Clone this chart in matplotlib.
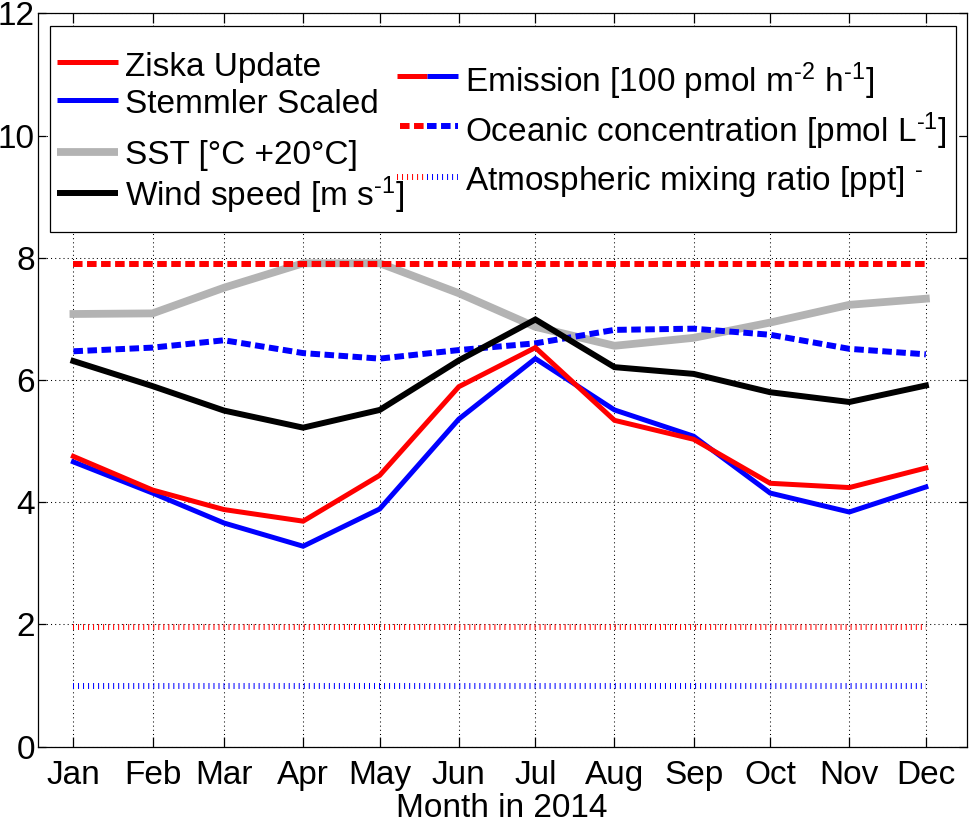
import matplotlib
matplotlib.use('Agg')
import matplotlib.pyplot as plt
from matplotlib.lines import Line2D
from matplotlib.patches import Rectangle

plt.rcParams['font.family'] = ['Liberation Sans', 'DejaVu Sans']
plt.rcParams['mathtext.fontset'] = 'custom'
plt.rcParams['mathtext.rm'] = 'Liberation Sans'
plt.rcParams['mathtext.it'] = 'Liberation Sans:italic'
plt.rcParams['mathtext.bf'] = 'Liberation Sans:bold'
plt.rcParams['mathtext.default'] = 'regular'

# ---- data ----
months = ['Jan', 'Feb', 'Mar', 'Apr', 'May', 'Jun',
          'Jul', 'Aug', 'Sep', 'Oct', 'Nov', 'Dec']
day_of_year = [15, 46, 74, 105, 135, 166, 196, 227, 258, 288, 319, 349]

emission_ziska = [4.75, 4.20, 3.88, 3.69, 4.44, 5.89, 6.53, 5.34, 5.03, 4.31, 4.24, 4.56]
emission_stemmler = [4.66, 4.15, 3.66, 3.28, 3.89, 5.36, 6.35, 5.51, 5.08, 4.15, 3.84, 4.25]
sst_plus20 = [7.08, 7.09, 7.51, 7.91, 7.91, 7.42, 6.87, 6.56, 6.69, 6.94, 7.23, 7.33]
wind_speed = [6.31, 5.90, 5.50, 5.22, 5.51, 6.32, 6.99, 6.21, 6.10, 5.80, 5.64, 5.91]
ocean_ziska = [7.90] * 12
ocean_stemmler = [6.47, 6.53, 6.65, 6.44, 6.35, 6.49, 6.60, 6.82, 6.84, 6.74, 6.51, 6.42]
atmos_ziska = [1.96] * 12
atmos_stemmler = [1.00] * 12

yticks = [0, 2, 4, 6, 8, 10, 12]

# ---- figure ----
W, H = 973, 822
fig = plt.figure(figsize=(W / 100, H / 100), dpi=100)
ax = fig.add_axes([37.7 / W, (H - 746.7) / H, 929 / W, 733.4 / H])

RED = '#ff0000'
BLUE = '#0000ff'
GRAY = '#b3b3b3'
BLACK = '#000000'

lw_em = 3.6
lw_wind = 4.3
lw_sst = 5.6
lw_dash = 4.3
dash_style = (0, (1.6, 0.75))
dot_style = (0, (0.17, 0.67))

ax.plot(day_of_year, sst_plus20, color=GRAY, lw=lw_sst, zorder=2, solid_joinstyle='miter')
ax.plot(day_of_year, ocean_stemmler, color=BLUE, lw=lw_dash, ls=dash_style,
        dash_capstyle='butt', zorder=3)
ax.plot(day_of_year, wind_speed, color=BLACK, lw=lw_wind, zorder=4, solid_joinstyle='miter')
ax.plot(day_of_year, emission_stemmler, color=BLUE, lw=lw_em, zorder=5, solid_joinstyle='miter')
ax.plot(day_of_year, emission_ziska, color=RED, lw=lw_em, zorder=6, solid_joinstyle='miter')
ax.plot(day_of_year, ocean_ziska, color=RED, lw=lw_dash, ls=dash_style,
        dash_capstyle='butt', zorder=7)
ax.plot(day_of_year, atmos_ziska, color=RED, lw=lw_dash, ls=dot_style,
        dash_capstyle='butt', zorder=7)
ax.plot(day_of_year, atmos_stemmler, color=BLUE, lw=lw_dash, ls=dot_style,
        dash_capstyle='butt', zorder=7)

ax.set_xlim(1, 365)
ax.set_ylim(0, 12)
ax.set_xticks(day_of_year)
ax.set_xticklabels(months)
ax.set_yticks(yticks)
ax.set_yticklabels([str(v) for v in yticks])

ax.grid(True, color='black', lw=0.75, ls=(0, (1, 3)))
ax.set_axisbelow(True)
for s in ax.spines.values():
    s.set_linewidth(0.9)
    s.set_zorder(10)

ax.tick_params(axis='x', direction='in', length=7.2, width=0.9, top=True,
               labelsize=24, pad=9.5)
ax.tick_params(axis='y', direction='in', length=5.8, width=0.9, right=True,
               labelsize=24, pad=2)
ax.set_xlabel('Month in 2014', fontsize=24, labelpad=1.2)

# ---- legend box (drawn in figure pixel coordinates) ----
def fx(x):
    return x / W

def fy(y):
    return 1 - y / H

box = Rectangle((fx(50), fy(232.3)), fx(955.7) - fx(50), fy(26) - fy(232.3),
                transform=fig.transFigure, facecolor='white', edgecolor='black',
                lw=0.9, zorder=20)
ax.add_artist(box)
box.set_clip_on(False)

def leg_line(x0, x1, y, **kw):
    ln = Line2D([fx(x0), fx(x1)], [fy(y), fy(y)], transform=fig.transFigure,
                zorder=21, clip_on=False, **kw)
    ax.add_artist(ln)

def leg_text(x, y, s):
    ax.text(fx(x), fy(y), s, transform=fig.transFigure, fontsize=24,
            ha='left', va='baseline', zorder=22, clip_on=False)

HY = '\u2010'  # short hyphen for superscripts

# left column
leg_line(56.7, 118.3, 61.7, color=RED, lw=lw_em, solid_capstyle='butt')
leg_text(125, 76, 'Ziska Update')
leg_line(56.7, 118.3, 99.7, color=BLUE, lw=lw_em, solid_capstyle='butt')
leg_text(125, 113.3, 'Stemmler Scaled')
leg_line(56.7, 118.3, 152, color=GRAY, lw=lw_sst, solid_capstyle='butt')
leg_text(125, 164, 'SST [°C +20°C]')
leg_line(56.7, 118.3, 193.3, color=BLACK, lw=lw_wind, solid_capstyle='butt')
leg_text(125, 206, 'Wind speed [m s$^{' + HY + '1}$]')

# right column (bicolour samples)
xm = 427.2
leg_line(396.7, xm, 76, color=RED, lw=lw_em, solid_capstyle='butt')
leg_line(xm, 457.7, 76, color=BLUE, lw=lw_em, solid_capstyle='butt')
leg_text(465, 92.3, 'Emission [100 pmol m$^{' + HY + '2}$ h$^{' + HY + '1}$]')
leg_line(400, xm, 126, color=RED, lw=lw_dash, ls=dash_style, dash_capstyle='butt')
leg_line(xm, 457.7, 126, color=BLUE, lw=lw_dash, ls=dash_style, dash_capstyle='butt')
leg_text(465, 141.7, 'Oceanic concentration [pmol L$^{' + HY + '1}$]')
leg_line(396.7, xm, 176.7, color=RED, lw=lw_dash, ls=dot_style, dash_capstyle='butt')
leg_line(xm, 457.7, 176.7, color=BLUE, lw=lw_dash, ls=dot_style, dash_capstyle='butt')
leg_text(465, 190, 'Atmospheric mixing ratio [ppt] $^{' + HY + '}$')

fig.savefig('out.png', dpi=100)
